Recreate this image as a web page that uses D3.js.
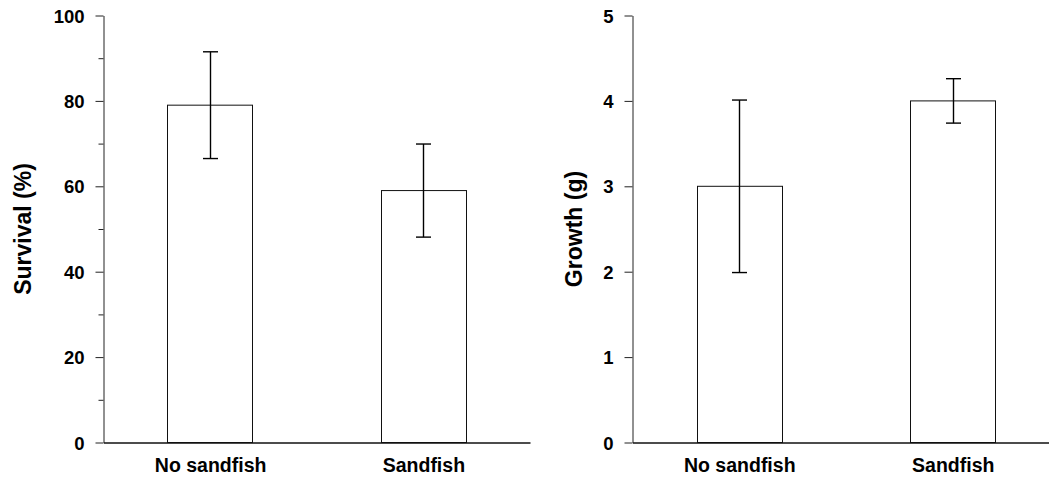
<!DOCTYPE html>
<html>
<head>
<meta charset="utf-8">
<script src="https://cdn.jsdelivr.net/npm/d3@7"></script>
<style>
  html, body { margin: 0; padding: 0; background: #fff; }
  svg { display: block; }
  text { font-family: "Liberation Sans", Arial, Helvetica, sans-serif; font-weight: bold; fill: #000; }
</style>
</head>
<body>
<svg id="chart" width="1049" height="479"></svg>
<script>
// Treatment groups
const categories = ["No sandfish", "Sandfish"];

// Survival (%) means and error
const survival = [79, 59];
const survivalErr = [12.5, 10.9];

// Growth (g) means and error
const growth = [3.0, 4.0];
const growthErr = [1.01, 0.26];

// Axis ticks
const survivalTicks = [0, 20, 40, 60, 80, 100];
const survivalMinorTicks = [10, 30, 50, 70, 90];
const growthTicks = [0, 1, 2, 3, 4, 5];

const svg = d3.select("#chart");

function panel(opts) {
  const g = svg.append("g");
  const x = d3.scalePoint().domain(categories).range([opts.x0, opts.x1]).padding(0.5);
  const y = d3.scaleLinear().domain(opts.domain).range([opts.yBottom, opts.yTop]);
  const barW = (opts.x1 - opts.x0) * 0.2;

  // bars
  g.selectAll("rect.bar").data(categories).join("rect")
    .attr("class", "bar")
    .attr("x", d => Math.round(x(d) - barW / 2) + 0.5)
    .attr("y", (d, i) => y(opts.values[i]))
    .attr("width", Math.round(barW))
    .attr("height", (d, i) => y(0) - y(opts.values[i]))
    .attr("fill", "#fff")
    .attr("stroke", "#111")
    .attr("stroke-width", 1);

  // error bars with caps
  const capW = 15;
  categories.forEach((c, i) => {
    const cx = Math.round(x(c)) + 0.5;
    const hi = y(opts.values[i] + opts.errors[i]);
    const lo = y(opts.values[i] - opts.errors[i]);
    g.append("line").attr("x1", cx).attr("x2", cx).attr("y1", hi).attr("y2", lo)
      .attr("stroke", "#000").attr("stroke-width", 1.4);
    [hi, lo].forEach(v => {
      g.append("line").attr("x1", cx - capW / 2).attr("x2", cx + capW / 2)
        .attr("y1", v).attr("y2", v)
        .attr("stroke", "#000").attr("stroke-width", 1.4);
    });
  });

  // y axis
  const yAxis = g.append("g").attr("transform", `translate(${opts.x0},0)`)
    .call(d3.axisLeft(y).tickValues(opts.ticks).tickFormat(d3.format("d"))
      .tickSize(8).tickPadding(11).tickSizeOuter(0));
  yAxis.attr("font-size", null).attr("font-family", null);
  yAxis.select(".domain").attr("stroke", "#222");
  yAxis.selectAll(".tick line").attr("stroke", "#222");
  yAxis.selectAll(".tick text").style("font-size", "18.5px").attr("dy", "0.36em");

  // unlabelled minor ticks
  if (opts.minor) {
    const minorAxis = g.append("g").attr("transform", `translate(${opts.x0},0)`)
      .call(d3.axisLeft(y).tickValues(opts.minor).tickSize(5).tickFormat(""));
    minorAxis.select(".domain").remove();
    minorAxis.selectAll(".tick line").attr("stroke", "#222");
  }

  // x axis
  const xAxis = g.append("g").attr("transform", `translate(0,${opts.yBottom})`)
    .call(d3.axisBottom(x).tickSize(0).tickPadding(16).tickSizeOuter(0));
  xAxis.attr("font-size", null).attr("font-family", null);
  xAxis.select(".domain").attr("stroke", "#111").attr("stroke-width", 1.4);
  xAxis.selectAll(".tick text").style("font-size", "19.5px").attr("dy", "0.71em");

  // y title
  g.append("text")
    .attr("transform", `translate(${opts.titleX},${(opts.yTop + opts.yBottom) / 2}) rotate(-90)`)
    .attr("text-anchor", "middle")
    .attr("dominant-baseline", "central")
    .style("font-size", "23px")
    .text(opts.title);
}

panel({
  x0: 103.5, x1: 530, yTop: 15.5, yBottom: 442.5,
  domain: [0, 100], values: survival, errors: survivalErr,
  ticks: survivalTicks, minor: survivalMinorTicks,
  title: "Survival (%)", titleX: 23
});

panel({
  x0: 632.5, x1: 1059.5, yTop: 15.5, yBottom: 442.5,
  domain: [0, 5], values: growth, errors: growthErr,
  ticks: growthTicks, minor: null,
  title: "Growth (g)", titleX: 573.5
});
</script>
</body>
</html>
